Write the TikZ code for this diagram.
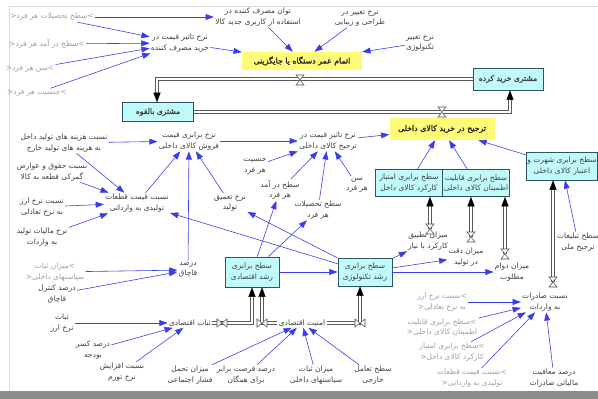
\documentclass[tikz,border=0pt]{standalone}
\usepackage{fontspec}
\usetikzlibrary{arrows.meta}
\TeXXeTstate=1
\newfontfamily\farsi[Script=Arabic]{DejaVu Sans}
\newfontfamily\farsibf[Script=Arabic,FakeBold=1.6]{DejaVu Sans}
\newcommand{\fa}[1]{\beginR#1\endR}
\newcommand{\valvev}[1]{\draw[valve] (#1) ++(-4,-5) -- ++(8,0) -- ++(-8,10) -- ++(8,0) -- cycle;}
\newcommand{\valveh}[1]{\draw[valve] (#1) ++(-5,-4) -- ++(0,8) -- ++(10,-8) -- ++(0,8) -- cycle;}
\definecolor{linkblue}{RGB}{60,60,235}
\definecolor{stockfill}{RGB}{192,250,250}
\definecolor{stockline}{RGB}{45,85,95}
\definecolor{flowyellow}{RGB}{255,250,120}
\definecolor{vartext}{RGB}{65,65,65}
\definecolor{shadowtext}{RGB}{160,160,160}
\tikzset{
  var/.style={font=\farsi\fontsize{6.4}{8.8}\selectfont, text=vartext, align=center, inner sep=1pt},
  shadowvar/.style={var, text=shadowtext},
  stock/.style={var, draw=stockline, fill=stockfill, line width=0.7pt, inner sep=1pt},
  flowname/.style={fill=flowyellow, font=\farsibf\fontsize{6.7}{9}\selectfont, text=black!85, align=center, inner sep=2pt},
  link/.style={draw=linkblue, line width=0.5pt, -{Triangle[length=7pt,width=5pt]}},
  pipe/.style={draw=black!65, double=white, double distance=2pt, line width=0.45pt, shorten >=5pt},
  pipetip/.style={draw=black, line width=0.1pt, -{Triangle[length=8pt,width=6pt]}},
  valve/.style={draw=black!70, fill=white, line width=0.45pt}
}
\begin{document}
\begin{tikzpicture}[x=0.03cm,y=-0.03cm]
\useasboundingbox (0,0) rectangle (598,399);
%Frame
\fill[white] (0,0) rectangle (598,399);
\draw[gray!30] (9,391) -- (9,6) -- (598,6);
\fill[black!45] (0,391) rectangle (598,399);

%Stocks
\node[stock, font=\farsibf\fontsize{6.5}{9}\selectfont, minimum width=2.1cm, minimum height=0.66cm] (bought) at (508,79) {\fa{مشتری خرید کرده}};
\node[stock, font=\farsibf\fontsize{6.5}{9}\selectfont, minimum width=2.13cm, minimum height=0.57cm] (potential) at (158,112) {\fa{مشتری بالقوه}};
\node[stock, minimum width=2.04cm, minimum height=0.81cm] (func) at (409,183) {\fa{سطح برابری امتیاز}\\\fa{کارکرد کالای داخل}};
\node[stock, minimum width=1.77cm, minimum height=0.81cm] (reliab) at (476,183) {\fa{سطح برابری قابلیت}\\\fa{اطمینان کالای داخلی}};
\node[stock, minimum width=2.1cm, minimum height=0.84cm] (repute) at (562,166) {\fa{سطح برابری شهرت و}\\\fa{اعتبار کالای داخلی}};
\node[stock, minimum width=1.62cm, minimum height=0.9cm] (econGrowth) at (252,272) {\fa{سطح برابری}\\\fa{رشد اقتصادی}};
\node[stock, minimum width=1.62cm, minimum height=0.84cm] (techGrowth) at (365,272) {\fa{سطح برابری}\\\fa{رشد تکنولوژی}};

%Flow names
\node[flowname, minimum width=3.6cm, minimum height=0.54cm] (endLife) at (302,61) {\fa{اتمام عمر دستگاه یا جایگزینی}};
\node[flowname, minimum width=3.15cm, minimum height=0.66cm] (prefer) at (442,129) {\fa{ترجیح در خرید کالای داخلی}};

%Top variables
\node[shadowvar] (sEduA) at (52,17) {<\fa{سطح تحصیلات هر فرد}>};
\node[shadowvar] (sIncA) at (47,44) {<\fa{سطح در آمد هر فرد}>};
\node[shadowvar] (sAgeA) at (30,69) {<\fa{سن هر فرد}>};
\node[shadowvar] (sGenA) at (37,93) {<\fa{جنسیت هر فرد}>};
\node[var] (buyPrice) at (180,43) {\fa{نرخ تاثیر قیمت در}\\\fa{خرید مصرف کننده}};
\node[var] (usage) at (258,17) {\fa{توان مصرف کننده در}\\\fa{استفاده از کاربری جدید کالا}};
\node[var] (design) at (360,18) {\fa{نرخ تغییر در}\\\fa{طراحی و زیبایی}};
\node[var] (tech) at (420,43) {\fa{نرخ تغییر}\\\fa{تکنولوژی}};

%Left variables
\node[var] (costRatio) at (64,143) {\fa{نسبت هزینه های تولید داخل}\\\fa{به هزینه های تولید خارج}};
\node[var] (duty) at (52,172) {\fa{نسبت حقوق و عوارض}\\\fa{گمرکی قطعه به کالا}};
\node[var] (partPrice) at (137,203) {\fa{نسبت قیمت قطعات}\\\fa{تولیدی به وارداتی}};
\node[var] (fxRatio) at (42,207) {\fa{نسبت نرخ ارز}\\\fa{به نرخ تعادلی}};
\node[var] (tax) at (42,237) {\fa{نرخ مالیات تولید}\\\fa{به واردات}};
\node[shadowvar] (polShadow) at (55,272) {\fa{میزان ثبات}>\\<\fa{سیاستهای داخلی}};
\node[var] (smuggleCtl) at (57,294) {\fa{درصد کنترل}\\\fa{قاچاق}};
\node[var] (smuggle) at (188,270) {\fa{درصد}\\\fa{قاچاق}};
\node[var] (sellPrice) at (189,141) {\fa{نرخ برابری قیمت}\\\fa{فروش کالای داخلی}};

%Middle variables
\node[var] (prefPrice) at (328,141) {\fa{نرخ تاثیر قیمت در}\\\fa{ترجیح کالای داخلی}};
\node[var] (deepen) at (230,203) {\fa{نرخ تعمیق}\\\fa{تولید}};
\node[var] (gender) at (255,166) {\fa{جنسیت}\\\fa{هر فرد}};
\node[var] (income) at (280,190) {\fa{سطح در آمد}\\\fa{هر فرد}};
\node[var] (edu) at (318,210) {\fa{سطح تحصیلات}\\\fa{هر فرد}};
\node[var] (age) at (357,185) {\fa{سن}\\\fa{هر فرد}};

%Right variables
\node[var] (advert) at (578,242) {\fa{سطح تبلیغات}\\\fa{ترجیح ملی}};
\node[var] (fitRate) at (428,241) {\fa{میزان تطبیق}\\\fa{کارکرد با نیاز}};
\node[var] (precRate) at (466,257) {\fa{میزان دقت}\\\fa{در تولید}};
\node[var] (durRate) at (512,272) {\fa{میزان دوام}\\\fa{مطلوب}};
\node[var] (exportRatio) at (545,302) {\fa{نسبت صادرات}\\\fa{به واردات}};
\node[shadowvar] (fxShadow) at (442,302) {\fa{نسبت نرخ ارز}>\\<\fa{به نرخ تعادلی}};
\node[shadowvar] (relShadow) at (442,327) {\fa{سطح برابری قابلیت}>\\<\fa{اطمینان کالای داخلی}};
\node[shadowvar] (funcShadow) at (452,352) {\fa{سطح برابری امتیاز}>\\<\fa{کارکرد کالای داخل}};
\node[shadowvar] (partShadow) at (472,378) {\fa{نسبت قیمت قطعات}>\\<\fa{تولیدی به وارداتی}};
\node[var] (taxExempt) at (554,378) {\fa{درصد معافیت}\\\fa{مالیاتی صادرات}};

%Bottom variables
\node[var] (econStab) at (190,323) {\fa{ثبات اقتصادی}};
\node[var] (econSec) at (302,323) {\fa{امنیت اقتصادی}};
\node[var] (fxStab) at (62,323) {\fa{ثبات}\\\fa{نرخ ارز}};
\node[var] (deficit) at (93,350) {\fa{درصد کسر}\\\fa{بودجه}};
\node[var] (inflation) at (122,372) {\fa{نسبت افزایش}\\\fa{نرخ تورم}};
\node[var] (social) at (190,375) {\fa{میزان تحمل}\\\fa{فشار اجتماعی}};
\node[var] (equalOpp) at (246,375) {\fa{درصد فرصت برابر}\\\fa{برای همگان}};
\node[var] (domPolicy) at (316,375) {\fa{میزان ثبات}\\\fa{سیاستهای داخلی}};
\node[var] (foreign) at (373,375) {\fa{سطح تعامل}\\\fa{خارجی}};

%Pipes
\coordinate (ctop) at (157,79);
\coordinate (vend) at (300,80);
\coordinate (cmid) at (510,112);
\coordinate (vpref) at (442,112);
\draw[pipe] (bought.west) -- (ctop) -- (ctop |- potential.north);
\draw[pipetip] (ctop |- potential.north) ++(0,-7) -- (ctop |- potential.north);
\draw[pipe] (potential.east) -- (cmid) -- (cmid |- bought.south);
\draw[pipetip] (cmid |- bought.south) ++(0,7) -- (cmid |- bought.south);
\coordinate (vfit) at (430,229);
\coordinate (vprec) at (471,237);
\coordinate (vdur) at (505,254);
\coordinate (vexp) at (553,282);
\foreach \v/\s in {vfit/func, vprec/reliab, vdur/reliab, vexp/repute}{
  \draw[pipe] (\v) -- (\v |- \s.south);
  \draw[pipetip] (\v |- \s.south) ++(0,7) -- (\v |- \s.south);
}
\coordinate (vstab) at (222,323);
\coordinate (cstab) at (252,323);
\coordinate (vsec) at (262,323);
\coordinate (vtech) at (360,323);
\draw[pipe] (econStab.east) -- (cstab) -- (cstab |- econGrowth.south);
\draw[pipe] (econSec.west) -- (vsec) -- (vsec |- econGrowth.south);
\draw[pipe] (econSec.east) -- (vtech) -- (vtech |- techGrowth.south);
\foreach \v/\s in {cstab/econGrowth, vsec/econGrowth, vtech/techGrowth}
  \draw[pipetip] (\v |- \s.south) ++(0,7) -- (\v |- \s.south);
%Valves
\valvev{vend}
\valvev{vpref}
\foreach \v in {vfit, vprec, vdur, vexp} {\valvev{\v}}
\foreach \v in {vstab, vsec, vtech} {\valveh{\v}}

%Links top
\draw[link] (sEduA) -- (usage);
\foreach \s in {sEduA, sIncA, sAgeA, sGenA} {\draw[link] (\s) -- (buyPrice);}
\foreach \s in {buyPrice, usage, design, tech} {\draw[link] (\s) -- (endLife);}
%Links left
\draw[link] (costRatio) -- (sellPrice);
\foreach \s in {costRatio, duty, fxRatio, tax} {\draw[link] (\s) -- (partPrice);}
\foreach \s in {partPrice, smuggle, deepen} {\draw[link] (\s) -- (sellPrice);}
\foreach \s in {polShadow, smuggleCtl} {\draw[link] (\s) -- (smuggle);}
%Links middle
\foreach \s in {sellPrice, gender, income, edu, age} {\draw[link] (\s) -- (prefPrice);}
\foreach \s in {prefPrice, func, reliab, repute} {\draw[link] (\s) -- (prefer);}
\draw[link] (advert) -- (repute);
\draw[link] (econGrowth) -- (income);
\draw[link] (econGrowth) -- (edu);
\draw[link] (econGrowth) -- (techGrowth);
\foreach \t in {partPrice, deepen, fitRate, precRate, durRate} {\draw[link] (techGrowth) -- (\t);}
%Links bottom
\foreach \s in {fxShadow, relShadow, funcShadow, partShadow, taxExempt} {\draw[link] (\s) -- (exportRatio);}
\foreach \s in {fxStab, deficit, inflation} {\draw[link] (\s) -- (econStab);}
\foreach \s in {social, equalOpp, domPolicy, foreign} {\draw[link] (\s) -- (econSec);}
\end{tikzpicture}
\end{document}
